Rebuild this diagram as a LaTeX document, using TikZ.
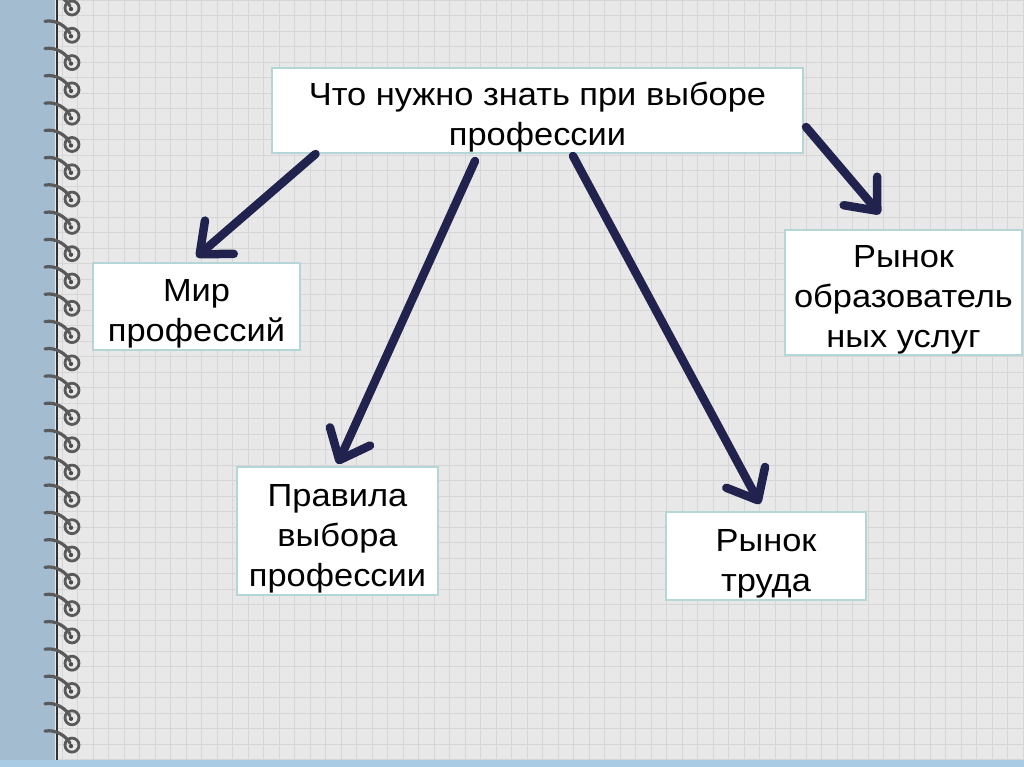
\documentclass[tikz,border=0pt]{standalone}
\usepackage{fontspec}
\setmainfont{Liberation Sans}[FakeStretch=1.075]
\usepackage{xcolor}
\definecolor{colPaper}{HTML}{E8E8E8}
\definecolor{colGrid}{HTML}{D6D6D6}
\definecolor{colStrip}{HTML}{A3BCCF}
\definecolor{colBottom}{HTML}{A9CBE3}
\definecolor{colWire}{HTML}{5A5A5A}
\definecolor{colBoxLine}{HTML}{B4D6D6}
\definecolor{colArrow}{HTML}{22224F}
\usepackage{tikz}
\usetikzlibrary{arrows.meta}
\newcommand{\topgap}{\rule{0pt}{37pt}}

\begin{document}
\begin{tikzpicture}[x=1pt, y=-1pt,
		every node/.style={font=\fontsize{32}{40}\selectfont, align=center},
		topicbox/.style={draw=colBoxLine, line width=2pt, fill=white, inner sep=0pt},
		pointer/.style={draw=colArrow, line width=8.5pt, line cap=round,
			-{Straight Barb[length=26pt, width=44pt, round]}}]
	\useasboundingbox (0,0) rectangle (1024,767);
	% paper, grid and binding
	\fill[colPaper] (0,0) rectangle (1024,767);
	\draw[colGrid, line width=0.7pt, step=15.5pt] (57,0) grid (1024,767);
	\fill[colStrip] (0,0) rectangle (55,767);
	\fill[colBottom] (0,760) rectangle (1024,767);
	\draw[black!80, line width=1.2pt] (57,0) -- (57,760);
	\foreach \y in {8,35.3,...,760}{
		\draw[colWire, line width=3.2pt, line cap=round] (45,\y-14) .. controls (56,\y-16) and (66,\y-9) .. (70,\y-2);
		\draw[colWire, line width=2.8pt] (72,\y) circle (7);
		\fill[black!70] (71,\y+1) circle (2.2);
	}
	% topics
	\node[topicbox, minimum width=531pt, minimum height=85pt] (choice) at (537.5,110.5) {\topgap Что нужно знать при выборе\\профессии};
	\node[topicbox, minimum width=207pt, minimum height=87pt] (world) at (196.5,306.5) {\topgap Мир\\профессий};
	\node[topicbox, minimum width=201pt, minimum height=128pt] (rules) at (337.5,531) {\topgap Правила\\выбора\\профессии};
	\node[topicbox, minimum width=200pt, minimum height=88pt] (labour) at (766,556) {\topgap Рынок\\труда};
	\node[topicbox, minimum width=237pt, minimum height=125pt] (edu) at (903.5,292.5) {\topgap Рынок\\образователь\\ных услуг};
	% arrows
	\draw[pointer] ([xshift=-222pt]choice.south) -- ([yshift=5pt]world.north);
	\draw[pointer] ([xshift=-62.5pt, yshift=-7pt]choice.south) -- ([yshift=2pt]rules.north);
	\draw[pointer] ([xshift=35.5pt, yshift=-2pt]choice.south) -- ([xshift=-6pt, yshift=7pt]labour.north);
	\draw[pointer] ([xshift=2pt, yshift=-16.5pt]choice.east) -- ([xshift=-23.5pt, yshift=15pt]edu.north);
\end{tikzpicture}
\end{document}
